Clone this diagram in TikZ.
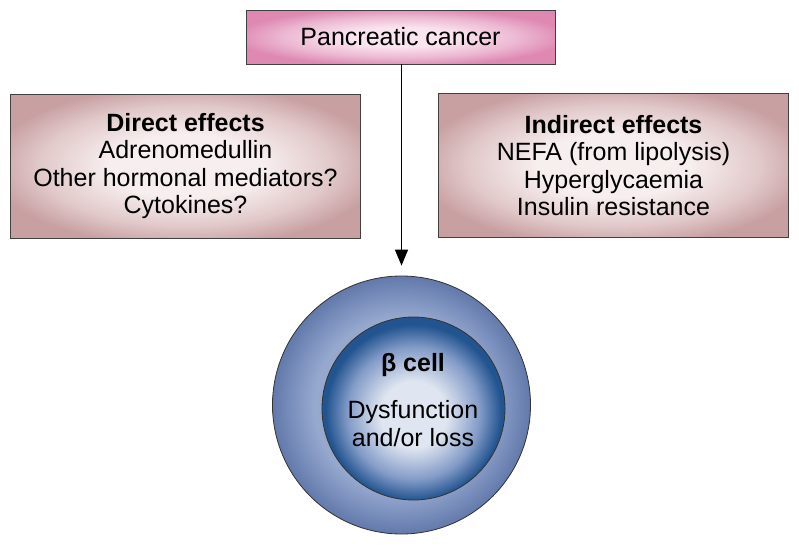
\documentclass[tikz,border=0pt]{standalone}
\usepackage{fontspec}
\setmainfont{Liberation Sans}
\usetikzlibrary{arrows.meta,shadings}

% Couleurs
\definecolor{pinkedge}{RGB}{222,136,178}
\definecolor{pinkmid}{RGB}{236,184,210}
\definecolor{pinkcore}{RGB}{250,228,238}
\definecolor{mauveedge}{RGB}{200,160,162}
\definecolor{mauvemid}{RGB}{225,200,201}
\definecolor{mauvecore}{RGB}{247,238,238}
\definecolor{ringedge}{RGB}{98,121,170}
\definecolor{ringmid}{RGB}{124,145,190}
\definecolor{ringcore}{RGB}{150,168,206}
\definecolor{celledge}{RGB}{34,84,144}
\definecolor{cellmid}{RGB}{132,156,200}
\definecolor{cellcore}{RGB}{224,230,241}

% Degrades
\pgfdeclareradialshading{pinkglow}{\pgfpoint{0bp}{0bp}}{color(0bp)=(pinkcore); color(9bp)=(pinkcore); color(19bp)=(pinkmid); color(27bp)=(pinkedge); color(50bp)=(pinkedge)}
\pgfdeclareradialshading{mauveglow}{\pgfpoint{0bp}{0bp}}{color(0bp)=(mauvecore); color(11bp)=(mauvecore); color(21bp)=(mauvemid); color(28bp)=(mauveedge); color(50bp)=(mauveedge)}
\pgfdeclareradialshading{ringglow}{\pgfpoint{0bp}{0bp}}{color(0bp)=(ringcore); color(17bp)=(ringcore); color(21bp)=(ringmid); color(25bp)=(ringedge); color(50bp)=(ringedge)}
\pgfdeclareradialshading{cellglow}{\pgfpoint{0bp}{-2bp}}{color(0bp)=(cellcore); color(9bp)=(cellcore); color(18bp)=(cellmid); color(24bp)=(celledge); color(50bp)=(celledge)}

\begin{document}
\begin{tikzpicture}[x=1pt, y=-1pt, font=\fontsize{25}{27.6}\selectfont]

    % Styles des noeuds
    \tikzstyle{cause} = [rectangle, minimum width=309pt, minimum height=54pt, text centered, draw=black!75, line width=0.8pt, shading=pinkglow]
    \tikzstyle{effects} = [rectangle, minimum width=350pt, minimum height=144pt, align=center, draw=black!75, line width=0.8pt, shading=mauveglow]
    \tikzstyle{ring} = [circle, minimum size=258pt, inner sep=0pt, draw=black!80, line width=0.8pt, shading=ringglow]
    \tikzstyle{cell} = [circle, minimum size=183pt, inner sep=0pt, draw=black!80, line width=0.8pt, shading=cellglow]
    \tikzstyle{arrow} = [line width=1.4pt, -{Triangle[length=16pt, width=13pt]}]

    \useasboundingbox (0,0) rectangle (799,546);

    % Noeuds
    \node (cancer) [cause] at (400.5,37) {Pancreatic cancer};
    \node (direct) [effects] at (185.5,166) {\textbf{Direct effects}\\Adrenomedullin\\Other hormonal mediators?\\Cytokines?};
    \node (indirect) [effects] at (613.5,165.5) {\textbf{Indirect effects}\\NEFA (from lipolysis)\\Hyperglycaemia\\Insulin resistance};
    \node (islet) [ring] at (401.5,405) {};
    \node (beta) [cell] at (413.5,408.5) {};
    \node (betatext) [align=center] at (413,400) {\textbf{β cell}\\[19pt]Dysfunction\\and/or loss};

    % Fleche
    \draw [arrow, shorten >=10pt] (cancer.south -| islet.north) -- (islet.north);

\end{tikzpicture}
\end{document}
